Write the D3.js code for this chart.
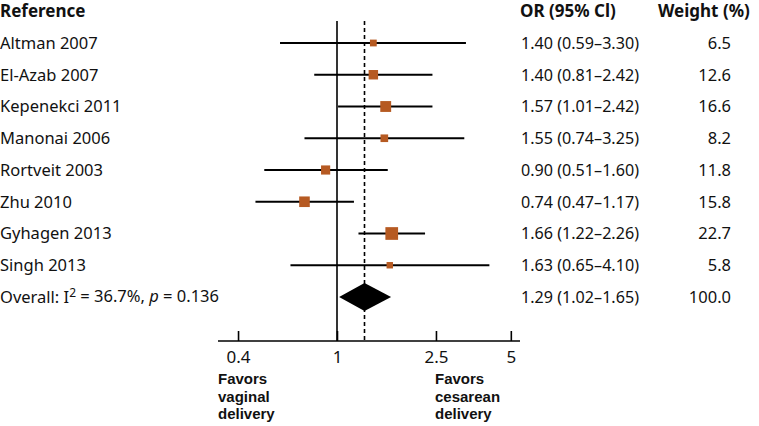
<!DOCTYPE html>
<html>
<head>
<meta charset="utf-8">
<script src="https://cdn.jsdelivr.net/npm/d3@7"></script>
<style>
  body { margin: 0; background: #fff; }
  text { font-family: "Noto Sans", sans-serif; fill: #111; }
</style>
</head>
<body>
<svg id="chart" width="759" height="426"></svg>
<script>
// studies and their estimates
const studies = ["Altman 2007", "El-Azab 2007", "Kepenekci 2011", "Manonai 2006",
  "Rortveit 2003", "Zhu 2010", "Gyhagen 2013", "Singh 2013"];
const or = [1.40, 1.40, 1.57, 1.55, 0.90, 0.74, 1.66, 1.63];
const lower = [0.59, 0.81, 1.01, 0.74, 0.51, 0.47, 1.22, 0.65];
const upper = [3.30, 2.42, 2.42, 3.25, 1.60, 1.17, 2.26, 4.10];
const weight = [6.5, 12.6, 16.6, 8.2, 11.8, 15.8, 22.7, 5.8];

const overall = { or: 1.29, lower: 1.02, upper: 1.65, weight: 100.0 };
const axisTicks = [0.4, 1, 2.5, 5];

const svg = d3.select("#chart");
const fs = 16.5;
const fsb = 17;

// log scale for odds ratio
const x = d3.scaleLog().domain([1 / Math.E, Math.E]).range([337 - 108, 337 + 108]);
const rowY = d3.scalePoint().domain(d3.range(studies.length + 1)).range([43, 297]);
const box = d3.scaleSqrt().domain([0, 22.7]).range([0, 12.7]);

const fmt = d3.format(".2f");
const ciText = (o, l, u) => `${fmt(o)} (${fmt(l)}\u2013${fmt(u)})`;

// headers
svg.append("text").attr("x", 0).attr("y", 17).attr("font-weight", "bold")
  .attr("font-size", fsb).text("Reference");
svg.append("text").attr("x", 520).attr("y", 17).attr("font-weight", "bold")
  .attr("font-size", fsb).text("OR (95% Cl)");
svg.append("text").attr("x", 658).attr("y", 17).attr("font-weight", "bold")
  .attr("font-size", fsb).text("Weight (%)");

const axisY = 341;

// reference line at 1 and dashed line at overall estimate
svg.append("line").attr("x1", x(1)).attr("x2", x(1)).attr("y1", 21).attr("y2", axisY)
  .attr("stroke", "#000").attr("stroke-width", 1.6);
svg.append("line").attr("x1", x(overall.or)).attr("x2", x(overall.or)).attr("y1", 21).attr("y2", axisY)
  .attr("stroke", "#000").attr("stroke-width", 1.6).attr("stroke-dasharray", "4,3");

// study rows
const rows = svg.selectAll("g.row").data(studies).join("g").attr("class", "row");

rows.append("text").attr("x", 0).attr("y", (d, i) => rowY(i)).attr("dy", "0.35em")
  .attr("font-size", fs).text(d => d);

rows.append("line")
  .attr("x1", (d, i) => x(lower[i])).attr("x2", (d, i) => x(upper[i]))
  .attr("y1", (d, i) => rowY(i)).attr("y2", (d, i) => rowY(i))
  .attr("stroke", "#000").attr("stroke-width", 2);

rows.append("rect")
  .attr("x", (d, i) => x(or[i]) - box(weight[i]) / 2)
  .attr("y", (d, i) => rowY(i) - box(weight[i]) / 2)
  .attr("width", (d, i) => box(weight[i]))
  .attr("height", (d, i) => box(weight[i]))
  .attr("fill", "#b65a22");

rows.append("text").attr("x", 521).attr("y", (d, i) => rowY(i)).attr("dy", "0.35em")
  .attr("font-size", fs).attr("textLength", 118).attr("lengthAdjust", "spacingAndGlyphs")
  .text((d, i) => ciText(or[i], lower[i], upper[i]));

rows.append("text").attr("x", 731).attr("y", (d, i) => rowY(i)).attr("dy", "0.35em")
  .attr("text-anchor", "end").attr("font-size", fs).text((d, i) => weight[i].toFixed(1));

// overall row
const oy = rowY(studies.length);
const ot = svg.append("text").attr("x", 0).attr("y", oy).attr("dy", "0.35em").attr("font-size", fs);
ot.append("tspan").text("Overall: I");
ot.append("tspan").attr("font-size", 12).attr("dy", "-0.45em").text("2");
ot.append("tspan").attr("dy", "0.3em").text(" = 36.7%, ");
ot.append("tspan").attr("font-style", "italic").text("p");
ot.append("tspan").text(" = 0.136");

svg.append("path")
  .attr("d", `M${x(overall.lower)},${oy} L${x(overall.or)},${oy - 14} L${x(overall.upper)},${oy} L${x(overall.or)},${oy + 14} Z`)
  .attr("fill", "#000");

svg.append("text").attr("x", 521).attr("y", oy).attr("dy", "0.35em")
  .attr("font-size", fs).attr("textLength", 118).attr("lengthAdjust", "spacingAndGlyphs")
  .text(ciText(overall.or, overall.lower, overall.upper));
svg.append("text").attr("x", 731).attr("y", oy).attr("dy", "0.35em")
  .attr("text-anchor", "end").attr("font-size", fs).text(overall.weight.toFixed(1));

// axis
const axis = d3.axisBottom(x).tickValues(axisTicks).tickSize(-10).tickPadding(10)
  .tickFormat(d3.format("~g"));
const ag = svg.append("g").attr("transform", `translate(0,${axisY})`).call(axis);
ag.select(".domain").remove();
ag.append("line").attr("x1", 218).attr("x2", 520).attr("stroke", "#000").attr("stroke-width", 1.6);
ag.selectAll(".tick line").attr("stroke", "#000").attr("stroke-width", 1.6);
ag.selectAll(".tick text").attr("font-size", 17).attr("fill", "#111");

// direction labels (tight line spacing, Liberation Sans keeps line boxes small)
const favors = [
  { x: 218, lines: ["Favors", "vaginal", "delivery"] },
  { x: 435, lines: ["Favors", "cesarean", "delivery"] }
];
favors.forEach(f => {
  f.lines.forEach((l, i) => svg.append("text").attr("x", f.x).attr("y", 384 + i * 17.5)
    .style("font-family", "'Liberation Sans', Arial, sans-serif")
    .attr("font-weight", "bold").attr("font-size", 15).text(l));
});
</script>
</body>
</html>
